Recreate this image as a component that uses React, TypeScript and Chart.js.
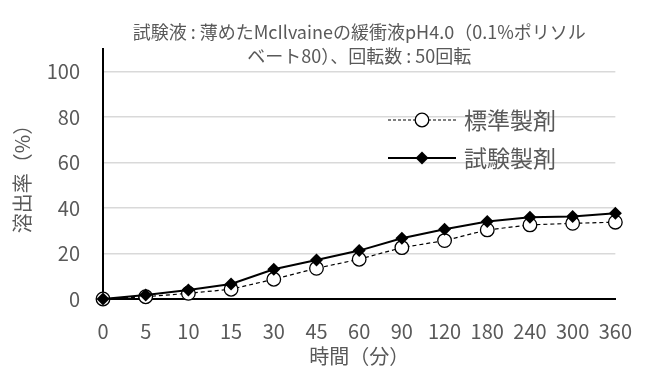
import React, { useEffect, useRef } from 'react';
import { Chart, registerables } from 'chart.js';

Chart.register(...registerables);

// Sampling times (minutes) and dissolution rates (%)
const times = ['0', '5', '10', '15', '30', '45', '60', '90', '120', '180', '240', '300', '360'];
const standardRate = [0, 1, 2.5, 4.3, 8.7, 13.5, 17.5, 22.6, 25.7, 30.4, 32.6, 33.3, 33.8];
const testRate = [0, 1.8, 4, 6.6, 13.1, 17.2, 21.3, 26.7, 30.7, 34.1, 36, 36.3, 37.7];

const seriesNames = ['標準製剤', '試験製剤'];
const titleLines = ['試験液 : 薄めたMcIlvaineの緩衝液pH4.0（0.1%ポリソル', 'ベート80）、回転数 : 50回転'];
const xTitle = '時間（分）';
const yTitle = '溶出率（%）';
const yTickMax = 100;

const FONT = '"Noto Sans CJK JP", "Noto Sans", sans-serif';
const TEXT = '#595959';

function drawCircle(ctx: CanvasRenderingContext2D, x: number, y: number) {
  ctx.beginPath();
  ctx.arc(x, y, 6.8, 0, Math.PI * 2);
  ctx.fillStyle = '#ffffff';
  ctx.fill();
  ctx.lineWidth = 1.3;
  ctx.strokeStyle = '#000000';
  ctx.setLineDash([]);
  ctx.stroke();
}

function drawDiamond(ctx: CanvasRenderingContext2D, x: number, y: number) {
  const r = 6.5;
  ctx.beginPath();
  ctx.moveTo(x, y - r);
  ctx.lineTo(x + r, y);
  ctx.lineTo(x, y + r);
  ctx.lineTo(x - r, y);
  ctx.closePath();
  ctx.fillStyle = '#000000';
  ctx.fill();
}

// Two-line heading above the plot and the legend inside it
const overlay = {
  id: 'overlay',
  afterDraw(chart: any) {
    const { ctx, chartArea } = chart;
    ctx.save();
    ctx.fillStyle = TEXT;
    ctx.font = `18px ${FONT}`;
    ctx.textAlign = 'center';
    ctx.textBaseline = 'middle';
    const cx = (chartArea.left + chartArea.right) / 2;
    titleLines.forEach((t, i) => ctx.fillText(t, cx, 32 + i * 24));

    const rows = [
      { y: 120, dash: [3, 2], width: 1.2, marker: drawCircle },
      { y: 158, dash: [], width: 2, marker: drawDiamond },
    ];
    rows.forEach((row, i) => {
      ctx.beginPath();
      ctx.setLineDash(row.dash);
      ctx.lineWidth = row.width;
      ctx.strokeStyle = '#000000';
      ctx.moveTo(388, row.y);
      ctx.lineTo(456, row.y);
      ctx.stroke();
      ctx.setLineDash([]);
      row.marker(ctx, 422, row.y);
      ctx.fillStyle = TEXT;
      ctx.font = `23px ${FONT}`;
      ctx.textAlign = 'left';
      ctx.textBaseline = 'middle';
      ctx.fillText(seriesNames[i], 464, row.y);
    });
    ctx.restore();
  },
};

export default function App() {
  const canvasRef = useRef<HTMLCanvasElement | null>(null);

  useEffect(() => {
    const canvas = canvasRef.current;
    if (!canvas) return;
    const chart = new Chart(canvas, {
      type: 'line',
      data: {
        labels: times,
        datasets: [
          {
            label: seriesNames[0],
            data: standardRate,
            order: 1,
            borderColor: '#000000',
            borderWidth: 1.2,
            borderDash: [4, 3],
            pointStyle: 'circle',
            pointRadius: 6.8,
            pointBorderWidth: 1.3,
            pointBackgroundColor: '#ffffff',
            pointBorderColor: '#000000',
            tension: 0,
            clip: false as any,
          },
          {
            label: seriesNames[1],
            data: testRate,
            order: 0,
            borderColor: '#000000',
            borderWidth: 2,
            pointStyle: 'rectRot',
            pointRadius: 6.5,
            pointBorderWidth: 0,
            pointBackgroundColor: '#000000',
            pointBorderColor: '#000000',
            tension: 0,
            clip: false as any,
          },
        ],
      },
      options: {
        responsive: false,
        animation: false,
        devicePixelRatio: 1,
        layout: { padding: { top: 49, right: 21, left: 0, bottom: 0 } },
        plugins: {
          legend: { display: false },
          title: { display: false },
          tooltip: { enabled: false },
        },
        scales: {
          x: {
            grid: { display: true, color: 'rgba(0,0,0,0)', drawTicks: false },
            border: { display: true, color: '#000000', width: 2 },
            ticks: {
              color: TEXT,
              font: { family: FONT, size: 20 },
              padding: 20,
              autoSkip: false,
              maxRotation: 0,
            },
            title: {
              display: true,
              text: xTitle,
              color: TEXT,
              font: { family: FONT, size: 20 },
              padding: { top: 0, bottom: 0 },
            },
            afterFit: (s: any) => {
              s.height = 69;
            },
          },
          y: {
            min: 0,
            max: 110,
            grid: { color: '#d9d9d9', lineWidth: 1.5, drawTicks: false },
            border: { display: true, color: '#000000', width: 2 },
            ticks: {
              stepSize: 20,
              color: TEXT,
              font: { family: FONT, size: 20 },
              padding: 23,
            },
            afterBuildTicks: (s: any) => {
              s.ticks = s.ticks.filter((t: any) => t.value <= yTickMax);
            },
            title: {
              display: true,
              text: yTitle,
              color: TEXT,
              font: { family: FONT, size: 20 },
              padding: { top: 10, bottom: 0 },
            },
            afterFit: (s: any) => {
              s.width = 103;
            },
          },
        },
      },
      plugins: [overlay],
    });
    return () => chart.destroy();
  }, []);

  return (
    <div style={{ position: 'absolute', left: 0, top: 0, width: 652, height: 368, background: '#ffffff' }}>
      <canvas ref={canvasRef} width={652} height={368} />
    </div>
  );
}
